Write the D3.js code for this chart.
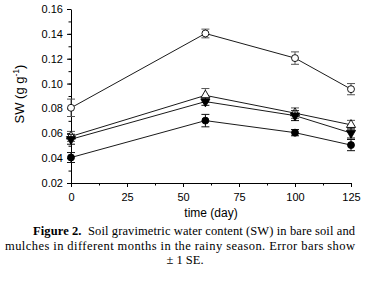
<!DOCTYPE html>
<html>
<head>
<meta charset="utf-8">
<script src="https://cdn.jsdelivr.net/npm/d3@7"></script>
<style>
  body { margin: 0; background: #fff; }
  svg text { fill: #000; }
</style>
</head>
<body>
<svg id="chart" width="369" height="293"></svg>
<script>
// sampling days
const days = [0, 60, 100, 125];
// SW values per series (g g-1)
const openCircle = [0.0805, 0.1403, 0.1205, 0.0955];
const openCircleSE = [0.007, 0.0035, 0.005, 0.0045];
const openTriangle = [0.0575, 0.0905, 0.0762, 0.0668];
const openTriangleSE = [0.004, 0.0055, 0.0042, 0.0036];
const filledTriangle = [0.0552, 0.0855, 0.0742, 0.0602];
const filledTriangleSE = [0.004, 0.003, 0.004, 0.004];
const filledCircle = [0.0405, 0.0702, 0.0605, 0.0505];
const filledCircleSE = [0.004, 0.005, 0.0025, 0.0045];
const xTicks = [0, 25, 50, 75, 100, 125];
const yTicks = [0.02, 0.04, 0.06, 0.08, 0.10, 0.12, 0.14, 0.16];

const series = [
    { name: "open circle", values: openCircle, se: openCircleSE, shape: "circle", fill: "#fff" },
    { name: "open triangle", values: openTriangle, se: openTriangleSE, shape: "up", fill: "#fff" },
    { name: "filled triangle", values: filledTriangle, se: filledTriangleSE, shape: "down", fill: "#000" },
    { name: "filled circle", values: filledCircle, se: filledCircleSE, shape: "circle", fill: "#000" },
];

const svg = d3.select("#chart");
const plot = { left: 71, right: 351, top: 9, bottom: 183 };

const x = d3.scaleLinear().domain([0, 125]).range([plot.left, plot.right]);
const y = d3.scaleLinear().domain([0.02, 0.16]).range([plot.bottom, plot.top]);

// minor ticks first, then major with labels
svg.append("g")
    .attr("transform", `translate(0,${plot.bottom})`)
    .call(d3.axisBottom(x).tickValues(d3.range(0, 126, 12.5)).tickSize(2.5).tickFormat(""))
    .call(g => g.select(".domain").remove());
svg.append("g")
    .attr("transform", `translate(0,${plot.bottom})`)
    .call(d3.axisBottom(x).tickValues(xTicks).tickSize(4).tickPadding(6).tickSizeOuter(0))
    .call(g => g.selectAll("text").style("font", "11px 'Liberation Sans', Arial, sans-serif"));

svg.append("g")
    .attr("transform", `translate(${plot.left},0)`)
    .call(d3.axisLeft(y).tickValues(d3.range(0.02, 0.1605, 0.01)).tickSize(2.5).tickFormat(""))
    .call(g => g.select(".domain").remove());
svg.append("g")
    .attr("transform", `translate(${plot.left},0)`)
    .call(d3.axisLeft(y).tickValues(yTicks).tickSize(4).tickPadding(4).tickSizeOuter(0).tickFormat(d3.format(".2f")))
    .call(g => g.selectAll("text").style("font", "11px 'Liberation Sans', Arial, sans-serif"));

// axis titles
svg.append("text")
    .attr("x", (plot.left + plot.right) / 2)
    .attr("y", 217)
    .attr("text-anchor", "middle")
    .style("font", "12px 'Liberation Sans', Arial, sans-serif")
    .text("time (day)");

const yLabel = svg.append("text")
    .attr("transform", `translate(24,${(plot.top + plot.bottom) / 2 - 2}) rotate(-90)`)
    .attr("text-anchor", "middle")
    .style("font", "13px 'Liberation Sans', Arial, sans-serif");
yLabel.append("tspan").text("SW (g g");
yLabel.append("tspan").attr("dy", -5).style("font-size", "8.5px").text("-1");
yLabel.append("tspan").attr("dy", 5).text(")");

const line = d3.line().x((d, i) => x(days[i])).y(d => y(d));

series.forEach(s => {
    const g = svg.append("g");
    g.append("path")
        .attr("d", line(s.values))
        .attr("fill", "none")
        .attr("stroke", "#000")
        .attr("stroke-width", 0.9);

    // error bars
    s.values.forEach((v, i) => {
        const cx = x(days[i]);
        const y0 = y(v - s.se[i]), y1 = y(v + s.se[i]);
        const col = s.fill === "#fff" ? "#555" : "#111";
        g.append("line").attr("x1", cx).attr("x2", cx).attr("y1", y0).attr("y2", y1)
            .attr("stroke", col).attr("stroke-width", 1);
        [y0, y1].forEach(yy => g.append("line")
            .attr("x1", cx - 4).attr("x2", cx + 4).attr("y1", yy).attr("y2", yy)
            .attr("stroke", col).attr("stroke-width", 1));
    });

    // markers
    const sym = s.shape === "circle" ? d3.symbolCircle : d3.symbolTriangle;
    const size = s.shape === "circle" ? 38 : 36;
    g.selectAll("path.pt")
        .data(s.values)
        .join("path")
        .attr("class", "pt")
        .attr("d", d3.symbol(sym, size))
        .attr("transform", (d, i) => `translate(${x(days[i])},${y(d)})${s.shape === "down" ? " rotate(180)" : ""}`)
        .attr("fill", s.fill)
        .attr("stroke", "#000")
        .attr("stroke-width", 0.9);
});

// caption
const cap = svg.append("g").style("font", "12.5px 'Liberation Serif', 'Times New Roman', serif");
const l1 = cap.append("text").attr("x", 33).attr("y", 235)
    .attr("textLength", 322).attr("lengthAdjust", "spacing");
l1.append("tspan").style("font-weight", "bold").text("Figure 2.");
l1.append("tspan").text("\u00a0 Soil gravimetric water content (SW) in bare soil and");
cap.append("text").attr("x", 5).attr("y", 250)
    .attr("textLength", 350).attr("lengthAdjust", "spacing")
    .text("mulches in different months in the rainy season. Error bars show");
cap.append("text").attr("x", 185).attr("y", 264).attr("text-anchor", "middle")
    .text("\u00b1 1 SE.");
</script>
</body>
</html>
